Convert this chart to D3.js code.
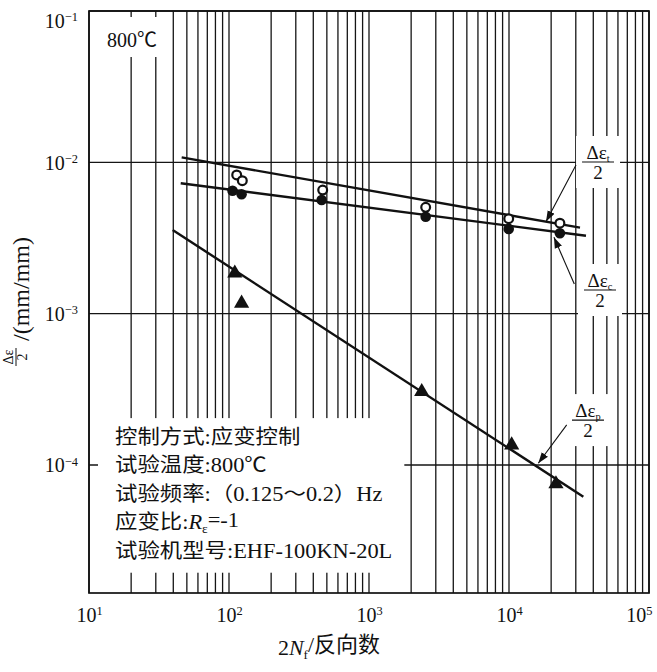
<!DOCTYPE html>
<html><head><meta charset="utf-8">
<script src="https://cdn.jsdelivr.net/npm/d3@7"></script>
<style>
body{margin:0;background:#fff;}
svg{display:block;}
text{font-family:"Liberation Serif","Noto Sans CJK SC",serif;fill:#111;}
</style></head><body>
<svg id="chart" width="657" height="672"></svg>
<script>
// ---------------- data ----------------
const xTickExponents = [1, 2, 3, 4, 5];
const yTickExponents = [-1, -2, -3, -4];
const yDomainMinExp = -4.846;

const totalCycles  = [113.5, 124.5, 467, 2540, 9950, 23100];
const totalStrain  = [0.00825, 0.00756, 0.00656, 0.00504, 0.00424, 0.00396];
const elasticCycles = [106, 123, 459, 2540, 9950, 23100];
const elasticStrain = [0.00649, 0.00615, 0.00564, 0.00437, 0.00363, 0.00340];
const plasticCycles = [110, 123, 2380, 10450, 21650];
const plasticStrain = [0.00185, 0.00117, 0.000305, 0.0001355, 0.0000749];

const totalFitCycles   = [45.9, 32150];
const totalFitStrain   = [0.01079, 0.0037];
const elasticFitCycles = [45.2, 35480];
const elasticFitStrain = [0.00727, 0.003275];
const plasticFitCycles = [39.6, 33960];
const plasticFitStrain = [0.00357, 0.0000617];

// annotation labels (fraction labels) and their arrows
const annoNames      = ["Δε_{t}", "Δε_{c}", "Δε_{p}"];
const annoLabelX     = [43250, 44670, 36650];
const annoLabelY     = [0.01005, 0.001433, 0.000198];
const annoTailX      = [30100, 29270, 25830];
const annoTailY      = [0.0096, 0.00157, 0.000184];
const annoTipX       = [18370, 20950, 16190];
const annoTipY       = [0.00405, 0.0032, 0.0001026];

const titleText = "800℃";
const conditionLabels = ["控制方式", "试验温度", "试验频率", "应变比", "试验机型号"];
const conditionValues = ["应变控制", "800℃", "（0.125～0.2）Hz", "*R*_{ε}=-1", "EHF-100KN-20L"];
const xTitle = "2*N*_{f}/反向数";
const yTitleNum = "Δε", yTitleDen = "2", yTitleRest = "/(mm/mm)";

// ---------------- layout ----------------
const W = 657, H = 672;
const m = {left: 89, top: 11, right: 8, bottom: 79};
const pw = W - m.left - m.right, ph = H - m.top - m.bottom;
const svg = d3.select("#chart");

const x = d3.scaleLog().domain([10, 1e5]).range([m.left, m.left + pw]);
const y = d3.scaleLog().domain([Math.pow(10, yDomainMinExp), 0.1]).range([m.top + ph, m.top]);

// rich text: *italic*, _{sub}, ^{sup}
function rich(sel, str, subScale) {
  subScale = subScale || 0.62;
  const parts = str.split(/(\*[^*]+\*|_\{[^}]+\}|\^\{[^}]+\})/).filter(s => s.length);
  let shift = 0;
  parts.forEach(p => {
    const ts = sel.append("tspan");
    let dy = 0;
    if (p.startsWith("*")) { ts.text(p.slice(1, -1)).attr("font-style", "italic"); dy = -shift; shift = 0; }
    else if (p.startsWith("_{")) { ts.text(p.slice(2, -1)).attr("font-size", (subScale*100)+"%"); dy = 0.3 - shift; shift = 0.3; }
    else if (p.startsWith("^{")) { ts.text(p.slice(2, -1)).attr("font-size", (subScale*100)+"%"); dy = -0.45 - shift; shift = -0.45; }
    else { ts.text(p); dy = -shift; shift = 0; }
    if (dy !== 0) ts.attr("dy", dy + "em");
  });
}

const gridColor = "#151515";
// vertical grid (all 1..9 multiples)
svg.append("g").selectAll("line").data(x.ticks()).join("line")
  .attr("x1", d => x(d)).attr("x2", d => x(d))
  .attr("y1", m.top).attr("y2", m.top + ph)
  .attr("stroke", gridColor).attr("stroke-width", 1.3);
// horizontal grid (decades)
svg.append("g").selectAll("line").data(yTickExponents.map(e => Math.pow(10, e))).join("line")
  .attr("x1", m.left).attr("x2", m.left + pw)
  .attr("y1", d => y(d)).attr("y2", d => y(d))
  .attr("stroke", gridColor).attr("stroke-width", 1.3);

// masks layer (white boxes behind annotations)
const maskG = svg.append("g");
const textG = svg.append("g");

function maskBehind(node, padL, padR, padT, padB) {
  const b = node.getBBox();
  maskG.append("rect").attr("x", b.x - padL).attr("y", b.y - padT)
    .attr("width", b.width + padL + padR).attr("height", b.height + padT + padB).attr("fill", "#fff");
}

// title
const title = textG.append("text").attr("x", m.left + 18).attr("y", m.top + 36)
  .attr("font-size", 20).text(titleText);
maskBehind(title.node(), 8, 10, 12, 6);

// conditions box
const condX = m.left + 26, condSX = 1.12;
const condG = textG.append("g").attr("transform", `translate(${condX},0) scale(${condSX},1)`);
conditionLabels.forEach((lab, i) => {
  const t = condG.append("text").attr("x", 0).attr("y", 444 + i * 28.5).attr("font-size", 20);
  rich(t, lab + ":" + conditionValues[i], 0.6);
});
{
  const b = condG.node().getBBox();
  const right = condX + (b.x + b.width) * condSX + 12;
  maskG.append("rect").attr("x", m.left + 9).attr("y", b.y - 8)
    .attr("width", right - (m.left + 9)).attr("height", b.height + 18).attr("fill", "#fff");
}

// fraction annotation labels
annoNames.forEach((nm, i) => {
  const g = textG.append("g");
  const cx = x(annoLabelX[i]), by = y(annoLabelY[i]);
  const num = g.append("text").attr("x", cx).attr("y", by - 3).attr("text-anchor", "middle").attr("font-size", 19);
  rich(num, nm, 0.55);
  g.append("line").attr("x1", cx - 16).attr("x2", cx + 16).attr("y1", by).attr("y2", by)
    .attr("stroke", "#111").attr("stroke-width", 1.2);
  g.append("text").attr("x", cx).attr("y", by + 17).attr("text-anchor", "middle").attr("font-size", 19).text("2");
  maskBehind(g.node(), 6, 6, 6, 5);
});

// frame
svg.append("rect").attr("x", m.left).attr("y", m.top).attr("width", pw).attr("height", ph)
  .attr("fill", "none").attr("stroke", "#111").attr("stroke-width", 1.7);

// fit lines
const lineGen = d3.line().x(d => x(d[0])).y(d => y(d[1]));
[[totalFitCycles, totalFitStrain], [elasticFitCycles, elasticFitStrain], [plasticFitCycles, plasticFitStrain]]
  .forEach(([cx, cy]) => {
    svg.append("path").datum(d3.zip(cx, cy)).attr("d", lineGen)
      .attr("fill", "none").attr("stroke", "#111").attr("stroke-width", 2.4);
  });

// markers
svg.append("g").selectAll("circle").data(d3.zip(elasticCycles, elasticStrain)).join("circle")
  .attr("cx", d => x(d[0])).attr("cy", d => y(d[1])).attr("r", 5.3).attr("fill", "#111");
svg.append("g").selectAll("circle").data(d3.zip(totalCycles, totalStrain)).join("circle")
  .attr("cx", d => x(d[0])).attr("cy", d => y(d[1])).attr("r", 4.4)
  .attr("fill", "#fff").attr("stroke", "#111").attr("stroke-width", 2.2);
const tri = d3.symbol().type(d3.symbolTriangle).size(100);
svg.append("g").selectAll("path").data(d3.zip(plasticCycles, plasticStrain)).join("path")
  .attr("d", tri).attr("transform", d => `translate(${x(d[0])},${y(d[1])})`).attr("fill", "#111");

// arrows
svg.append("defs").append("marker").attr("id", "ah").attr("viewBox", "0 0 10 10")
  .attr("refX", 10).attr("refY", 5).attr("markerWidth", 11).attr("markerHeight", 11)
  .attr("markerUnits", "userSpaceOnUse").attr("orient", "auto")
  .append("path").attr("d", "M0,1.5L10,5L0,8.5Z").attr("fill", "#111");
annoNames.forEach((nm, i) => {
  svg.append("line").attr("x1", x(annoTailX[i])).attr("y1", y(annoTailY[i]))
    .attr("x2", x(annoTipX[i])).attr("y2", y(annoTipY[i]))
    .attr("stroke", "#111").attr("stroke-width", 1.1).attr("marker-end", "url(#ah)");
});

// x axis
const xAxis = d3.axisBottom(x).tickValues(xTickExponents.map(e => Math.pow(10, e))).tickSize(0).tickFormat("");
const xg = svg.append("g").attr("transform", `translate(0,${m.top + ph})`).call(xAxis);
xg.select(".domain").remove();
xg.selectAll(".tick").each(function(d, i) {
  const t = d3.select(this).append("text").attr("y", 29).attr("text-anchor", "middle")
    .attr("font-size", 20).attr("fill", "#111");
  t.append("tspan").text("10");
  t.append("tspan").text(String(xTickExponents[i])).attr("font-size", "62%").attr("dy", "-0.55em");
  // keep inside the page
  const b = t.node().getBBox();
  const absRight = x(d) + b.x + b.width;
  if (absRight > W - 5) t.attr("x", (W - 5) - absRight);
});

// y axis
const yAxis = d3.axisLeft(y).tickValues(yTickExponents.map(e => Math.pow(10, e))).tickSize(0).tickFormat("");
const yg = svg.append("g").attr("transform", `translate(${m.left},0)`).call(yAxis);
yg.select(".domain").remove();
yg.selectAll(".tick").each(function(d, i) {
  const ty = y(d);
  const off = Math.max(7, m.top + 16 - ty);
  const t = d3.select(this).append("text").attr("x", -11).attr("y", off).attr("text-anchor", "end")
    .attr("font-size", 20).attr("fill", "#111");
  t.append("tspan").text("10");
  t.append("tspan").text("−" + String(-yTickExponents[i])).attr("font-size", "62%").attr("dy", "-0.55em");
});

// x title
const xt = svg.append("text").attr("x", 329).attr("y", 655).attr("text-anchor", "middle").attr("font-size", 22);
rich(xt, xTitle, 0.6);

// y title (rotated)
const yt = svg.append("g").attr("transform", `translate(0,${372}) rotate(-90)`);
yt.append("text").attr("x", 15).attr("y", 13).attr("text-anchor", "middle").attr("font-size", 14).text(yTitleNum);
yt.append("line").attr("x1", 6).attr("x2", 24).attr("y1", 16).attr("y2", 16).attr("stroke", "#111").attr("stroke-width", 1);
yt.append("text").attr("x", 15).attr("y", 27).attr("text-anchor", "middle").attr("font-size", 14).text(yTitleDen);
yt.append("text").attr("x", 31).attr("y", 29).attr("font-size", 24).text(yTitleRest);
</script>
</body></html>
